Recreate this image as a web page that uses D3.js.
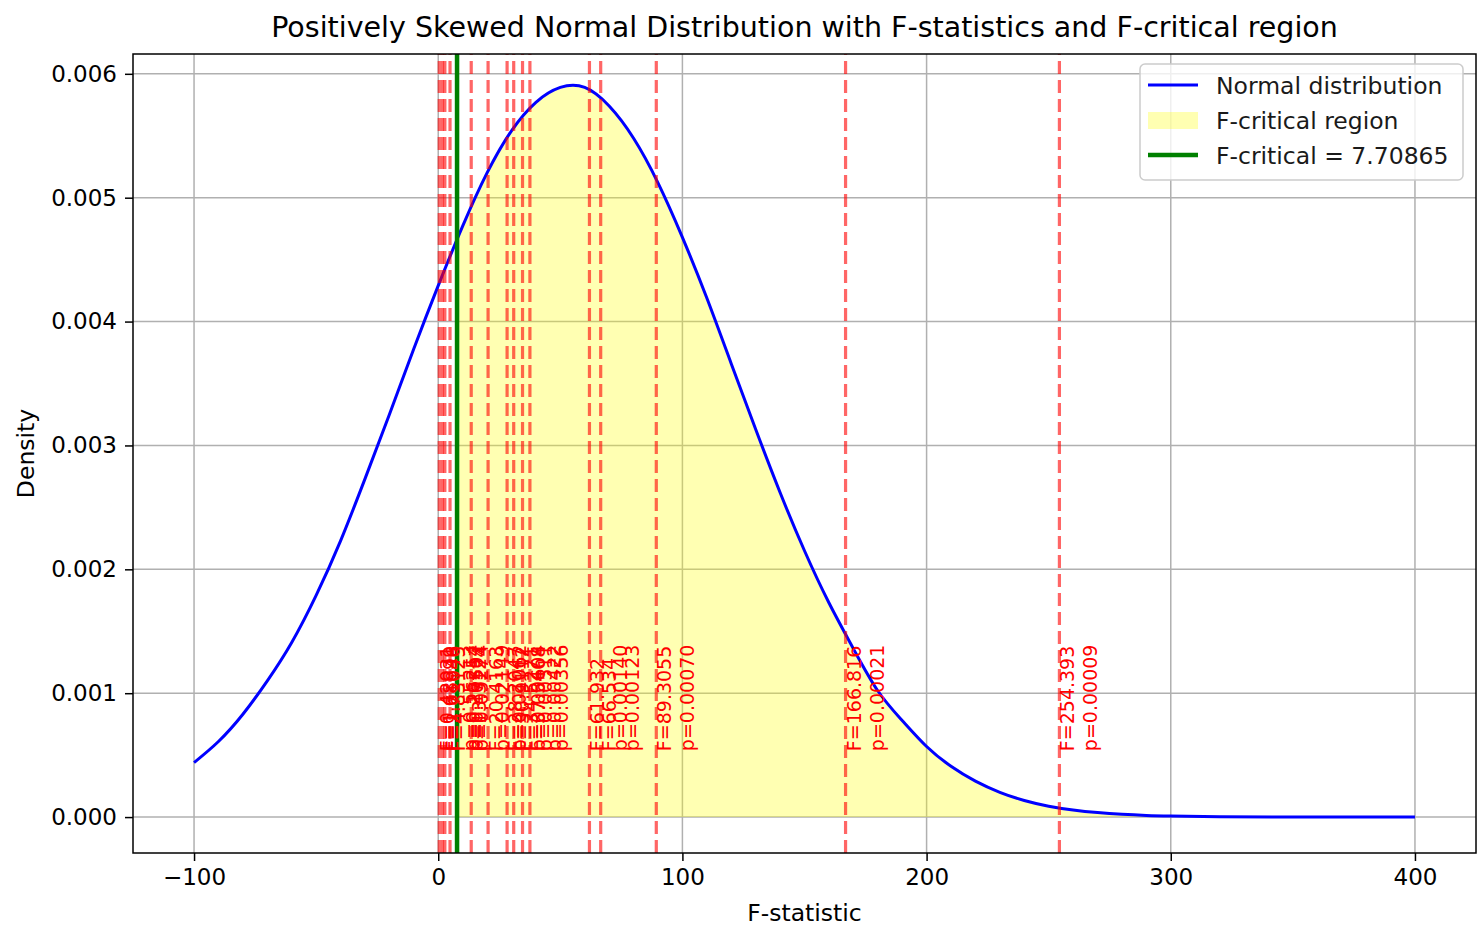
<!DOCTYPE html>
<html>
<head>
<meta charset="utf-8">
<script src="https://cdn.jsdelivr.net/npm/d3@7"></script>
<style>
  body { margin: 0; background: #fff; }
  text { font-family: "DejaVu Sans", sans-serif; }
</style>
</head>
<body>
<svg id="chart"></svg>
<script>
var width = 1478,
    height = 930;
var margin = {top: 54, right: 2, bottom: 77, left: 133};

// density curve
var curveX = [-100, -90, -80, -70, -60, -50, -40, -30, -20, -10, 0, 10, 20, 30, 40, 50, 60, 70, 80,
              90, 100, 110, 120, 130, 140, 150, 160, 170, 180, 190, 200, 210, 220, 230, 240, 250, 260,
              270, 280, 290, 300, 320, 350, 400];
var curveY = [0.00044, 0.00061, 0.00083, 0.00110, 0.00141, 0.00179, 0.00223, 0.00273, 0.00325, 0.00378,
              0.00429, 0.00477, 0.00520, 0.00554, 0.00577, 0.00589, 0.00589, 0.00574, 0.00548,
              0.00512, 0.00468, 0.00419, 0.00366, 0.00313, 0.00262, 0.00215, 0.00173, 0.00136, 0.00102,
              0.00078, 0.00057, 0.00041, 0.00029, 0.00020, 0.000134, 0.000088, 0.000057, 0.000036,
              0.000022, 0.000013, 0.000008, 0.0000026, 0.0000003, 0];

// F statistics and their p values
var fStats = [0.42, 1.689, 2.71, 4.83, 13.5124, 20.4163, 28.2047, 30.9112, 34.5271, 37.5468,
              61.932, 66.534, 89.3055, 166.816, 254.393];
var fLabels = ["F=0.42031", "F=1.68899", "F=2.71046", "F=4.83125", "F=13.5124", "F=20.4163", "F=28.2047",
               "F=30.9112", "F=34.5271", "F=37.5468", "F=61.932", "F=66.534", "F=89.3055", "F=166.816", "F=254.393"];
var pLabels = ["p=0.55213", "p=0.26254", "p=0.17507", "p=0.09274", "p=0.02149", "p=0.01062", "p=0.00604",
               "p=0.00511", "p=0.00422", "p=0.00356", "p=0.00140", "p=0.00123", "p=0.00070", "p=0.00021", "p=0.00009"];
var fCritical = 7.70865;

var xTicks = [-100, 0, 100, 200, 300, 400];
var yTicks = [0, 0.001, 0.002, 0.003, 0.004, 0.005, 0.006];
var legendLabels = ["Normal distribution", "F-critical region", "F-critical = 7.70865"];

var x = d3.scaleLinear([-125, 425], [margin.left, width - margin.right]);
var y = d3.scaleLinear([-0.00029, 0.00616], [height - margin.bottom, margin.top]);

var svg = d3.select('#chart')
  .attr('width', width)
  .attr('height', height);

var plotTop = margin.top, plotBottom = height - margin.bottom,
    plotLeft = margin.left, plotRight = width - margin.right;

// grid
svg.append('g').selectAll('line')
  .data(xTicks)
  .join('line')
  .attr('x1', d => x(d)).attr('x2', d => x(d))
  .attr('y1', plotTop).attr('y2', plotBottom)
  .style('stroke', '#b0b0b0').style('stroke-width', 1.5);
svg.append('g').selectAll('line')
  .data(yTicks)
  .join('line')
  .attr('y1', d => y(d)).attr('y2', d => y(d))
  .attr('x1', plotLeft).attr('x2', plotRight)
  .style('stroke', '#b0b0b0').style('stroke-width', 1.5);

var pts = curveX.map((d, i) => [d, curveY[i]]);

// F-critical region (clipped at the critical value)
svg.append('clipPath').attr('id', 'crit-clip')
  .append('rect')
  .attr('x', x(fCritical)).attr('y', plotTop)
  .attr('width', plotRight - x(fCritical)).attr('height', plotBottom - plotTop);

var area = d3.area()
  .x(d => x(d[0]))
  .y0(y(0))
  .y1(d => y(d[1]))
  .curve(d3.curveNatural);

svg.append('path')
  .datum(pts)
  .attr('d', area)
  .attr('clip-path', 'url(#crit-clip)')
  .style('fill', 'yellow')
  .style('fill-opacity', 0.3);

// curve
var line = d3.line()
  .x(d => x(d[0]))
  .y(d => y(d[1]))
  .curve(d3.curveNatural);

svg.append('path')
  .datum(pts)
  .attr('d', line)
  .style('fill', 'none')
  .style('stroke', 'blue')
  .style('stroke-width', 3);

// F statistic lines
svg.append('g').selectAll('line')
  .data(fStats)
  .join('line')
  .attr('x1', d => x(d)).attr('x2', d => x(d))
  .attr('y1', plotBottom).attr('y2', plotTop)
  .style('stroke', 'red')
  .style('stroke-opacity', 0.6)
  .style('stroke-width', 3.2)
  .style('stroke-dasharray', '13,6');

// F critical line
svg.append('line')
  .attr('x1', x(fCritical)).attr('x2', x(fCritical))
  .attr('y1', plotBottom).attr('y2', plotTop)
  .style('stroke', 'green')
  .style('stroke-width', 4.5);

// labels next to each F line
var labels = svg.append('g').selectAll('text')
  .data(fStats)
  .join('text')
  .attr('transform', d => 'translate(' + (x(d) + 15) + ',' + (y(0.0005) - 4) + ') rotate(-90)')
  .style('fill', 'red')
  .style('font-size', '19px');
labels.append('tspan')
  .attr('x', 0).attr('y', 0)
  .text((d, i) => fLabels[i]);
labels.append('tspan')
  .attr('x', 0).attr('y', 23)
  .text((d, i) => pLabels[i]);

// axes
var xAxis = svg.append('g')
  .attr('transform', 'translate(0,' + plotBottom + ')')
  .call(d3.axisBottom(x).tickValues(xTicks).tickFormat(d3.format('d')).tickSize(8).tickPadding(8));
var yAxis = svg.append('g')
  .attr('transform', 'translate(' + plotLeft + ',0)')
  .call(d3.axisLeft(y).tickValues(yTicks).tickFormat(d3.format('.3f')).tickSize(8).tickPadding(8));

[xAxis, yAxis].forEach(function(a) {
  a.select('.domain').remove();
  a.selectAll('.tick line').style('stroke', '#000').style('stroke-width', 1.5);
  a.selectAll('.tick text')
    .style('font-family', '"DejaVu Sans", sans-serif')
    .style('font-size', '23px')
    .style('fill', '#000');
});

// frame
svg.append('rect')
  .attr('x', plotLeft).attr('y', plotTop)
  .attr('width', plotRight - plotLeft).attr('height', plotBottom - plotTop)
  .style('fill', 'none')
  .style('stroke', '#000')
  .style('stroke-width', 1.5);

// titles
svg.append('text')
  .attr('x', (plotLeft + plotRight) / 2).attr('y', 37)
  .attr('text-anchor', 'middle')
  .style('font-size', '28.5px')
  .text('Positively Skewed Normal Distribution with F-statistics and F-critical region');

svg.append('text')
  .attr('x', (plotLeft + plotRight) / 2).attr('y', 921)
  .attr('text-anchor', 'middle')
  .style('font-size', '23.5px')
  .text('F-statistic');

svg.append('text')
  .attr('transform', 'translate(34,' + ((plotTop + plotBottom) / 2) + ') rotate(-90)')
  .attr('text-anchor', 'middle')
  .style('font-size', '23.5px')
  .text('Density');

// legend
var legend = svg.append('g').attr('transform', 'translate(1140,64)');
legend.append('rect')
  .attr('width', 323).attr('height', 116)
  .attr('rx', 5)
  .style('fill', '#fff').style('fill-opacity', 0.8)
  .style('stroke', '#cccccc').style('stroke-width', 1.5);

var rowY = [21, 56, 91];
legend.append('line')
  .attr('x1', 8).attr('x2', 58).attr('y1', rowY[0]).attr('y2', rowY[0])
  .style('stroke', 'blue').style('stroke-width', 3);
legend.append('rect')
  .attr('x', 8).attr('y', rowY[1] - 8).attr('width', 50).attr('height', 17)
  .style('fill', 'yellow').style('fill-opacity', 0.3);
legend.append('line')
  .attr('x1', 8).attr('x2', 58).attr('y1', rowY[2]).attr('y2', rowY[2])
  .style('stroke', 'green').style('stroke-width', 4.5);

legend.selectAll('text.lab')
  .data(legendLabels)
  .join('text')
  .attr('class', 'lab')
  .attr('x', 76)
  .attr('y', (d, i) => rowY[i] + 8.5)
  .style('font-size', '23.5px')
  .style('fill', '#1a1a1a')
  .text(d => d);
</script>
</body>
</html>
